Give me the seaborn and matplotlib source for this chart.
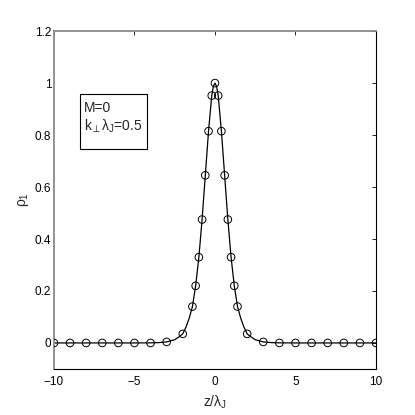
import numpy as np
import pandas as pd
import matplotlib
matplotlib.use('Agg')
import matplotlib.pyplot as plt
from matplotlib.patches import Rectangle
import seaborn as sns

# pontos (círculos)
z_circ = [-10, -9, -8, -7, -6, -5, -4, -3, -2, -1.4, -1.2, -1.0, -0.8, -0.6, -0.4, -0.2,
          0, 0.2, 0.4, 0.6, 0.8, 1.0, 1.2, 1.4, 2, 3, 4, 5, 6, 7, 8, 9, 10]
rho_circ = [0.0, 0.0, 0.0, 0.0, 0.0, 0.0, 0.0, 0.004, 0.035, 0.14, 0.22, 0.33, 0.475, 0.645, 0.815, 0.952,
            1.0, 0.952, 0.815, 0.645, 0.475, 0.33, 0.22, 0.14, 0.035, 0.004, 0.0, 0.0, 0.0, 0.0, 0.0, 0.0, 0.0]

# curva contínua
z_line = [-10, -5, -4, -3.5, -3, -2.5, -2.2, -2, -1.8, -1.6, -1.4, -1.2, -1.0, -0.8, -0.6, -0.4, -0.2, -0.1,
          0, 0.1, 0.2, 0.4, 0.6, 0.8, 1.0, 1.2, 1.4, 1.6, 1.8, 2, 2.2, 2.5, 3, 3.5, 4, 5, 10]
rho_line = [0.0, 0.0, 0.0004, 0.0013, 0.004, 0.0125, 0.025, 0.035, 0.061, 0.095, 0.14, 0.22, 0.33, 0.475,
            0.645, 0.815, 0.952, 0.987, 1.0, 0.987, 0.952, 0.815, 0.645, 0.475, 0.33, 0.22, 0.14, 0.095,
            0.061, 0.035, 0.025, 0.0125, 0.004, 0.0013, 0.0004, 0.0, 0.0]

xticks = [-10, -5, 0, 5, 10]
yticks = [0, 0.2, 0.4, 0.6, 0.8, 1.0, 1.2]
ytick_labels = ['0', '0.2', '0.4', '0.6', '0.8', '1', '1.2']

sns.set_theme(style='white')
plt.rcParams['font.family'] = ['Liberation Sans', 'DejaVu Sans']
plt.rcParams['mathtext.fontset'] = 'custom'
plt.rcParams['mathtext.rm'] = 'Liberation Sans'
plt.rcParams['mathtext.it'] = 'Liberation Sans'
plt.rcParams['mathtext.fallback'] = 'stixsans'

df_line = pd.DataFrame({'z': z_line, 'rho': rho_line})
df_circ = pd.DataFrame({'z': z_circ, 'rho': rho_circ})

fig = plt.figure(figsize=(4.15, 4.15), dpi=100)
ax = fig.add_axes([0.130, 0.111, 0.776, 0.814])

sns.lineplot(data=df_line, x='z', y='rho', color='black', linewidth=0.9, ax=ax)
sns.scatterplot(data=df_circ, x='z', y='rho', marker='o', s=30, facecolors='none',
                edgecolor='black', linewidth=0.7, ax=ax, zorder=3)

ax.set_xlim(-10, 10)
ax.set_ylim(-0.1, 1.2)
ax.set_xticks(xticks)
ax.set_xticklabels(['\u221210', '\u22125', '0', '5', '10'])
ax.set_yticks(yticks)
ax.set_yticklabels(ytick_labels)
ax.tick_params(direction='in', length=3, width=0.6, labelsize=8.5, top=True, right=True,
               colors='black')
ax.tick_params(axis='x', pad=5)
ax.tick_params(axis='y', pad=2)
ax.set_xlabel(r'z/$\lambda_J$', fontsize=10, labelpad=4)
ax.set_ylabel(r'$\rho_1$', fontsize=10)
ax.yaxis.set_label_coords(-0.07, 0.5)

for side in ['left', 'top']:
    ax.spines[side].set_color('#8a8a8a')
    ax.spines[side].set_linewidth(1.3)
for side in ['right', 'bottom']:
    ax.spines[side].set_color('black')
    ax.spines[side].set_linewidth(0.8)

# caixa com os parâmetros
ax.add_patch(Rectangle((-8.39, 0.746), 4.17, 0.212, fill=False, edgecolor='black',
                       linewidth=0.8, zorder=4))
ax.text(-8.14, 0.905, 'M=0', fontsize=10, va='center', ha='left')
ax.text(-8.14, 0.835, r'k$_{\perp}\lambda_J$=0.5', fontsize=10, va='center', ha='left')

fig.savefig('out.png', dpi=100)
